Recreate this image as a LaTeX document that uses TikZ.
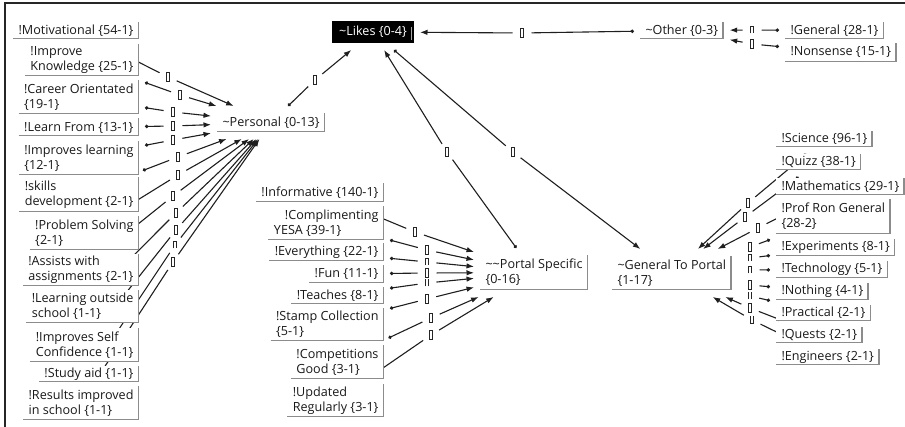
\documentclass[tikz,border=0pt]{standalone}
\usepackage{fontspec}
\setmainfont{Open Sans}
\usetikzlibrary{arrows.meta}
\pgfdeclarelayer{bg}
\pgfsetlayers{bg,main}
\tikzset{
  code/.style={rectangle, fill=white, inner xsep=5.5pt, inner ysep=0pt,
    outer xsep=6pt, outer ysep=7pt, align=left, text=black!90,
    font=\fontsize{12.6}{15}\selectfont},
  lbl/.style={circle, minimum size=19pt, inner sep=0pt, outer sep=0pt},
  gl/.style={line width=0.9pt, black!85},
  shad/.style={line width=1.4pt, black!45},
  link/.style={line width=1.1pt, black!88},
  dotarr/.style={link, {Circle[length=3.4pt]}-},
  plain/.style={link},
  tiparr/.style={link, -{Latex[length=7.5pt,width=5.5pt]}},
}
\newcommand\lbx[4]{%
  \node[lbl] (#1) at (#2,#3) {};
  \ifcase#4
    \draw[gl] ([xshift=-1.8pt,yshift=-4.3pt]#1.center) rectangle ([xshift=1.8pt,yshift=4.3pt]#1.center);
  \or
    \draw[gl] ([xshift=-1.8pt,yshift=-3.5pt]#1.center) -- ([xshift=-1.8pt,yshift=3.5pt]#1.center) -- ([xshift=1.8pt,yshift=3.5pt]#1.center) -- ([xshift=1.8pt,yshift=-3.5pt]#1.center);
  \or
    \draw[gl] ([xshift=-1.8pt,yshift=-3.5pt]#1.center) -- ([xshift=-1.8pt,yshift=3.5pt]#1.center) ([xshift=1.8pt,yshift=-3.5pt]#1.center) -- ([xshift=1.8pt,yshift=3.5pt]#1.center);
  \or
    \draw[gl] ([xshift=-1.8pt,yshift=3.5pt]#1.center) -- ([xshift=-1.8pt,yshift=-3.5pt]#1.center) -- ([xshift=1.8pt,yshift=-3.5pt]#1.center) -- ([xshift=1.8pt,yshift=3.5pt]#1.center);
  \fi}
\newcommand\lnk[3]{\draw[dotarr] (#1) -- (#2); \draw[tiparr] (#2) -- (#3);}
\newcommand\lnkhalf[2]{\draw[dotarr] (#1) -- (#2);}
\begin{document}
\begin{tikzpicture}[x=1pt,y=-1pt]
\useasboundingbox (0,0) rectangle (905,427);
% frame
\draw[line width=2pt, black!85] (5,427) -- (5,3.5) -- (905,3.5);

% ---------- left column ----------
\node[code,anchor=east,minimum height=17pt] (mot) at (145,30.5) {!Motivational \{54-1\}};
\node[code,anchor=east,minimum height=32pt] (ik) at (145,60) {!Improve\\Knowledge \{25-1\}};
\node[code,anchor=east,minimum height=34pt] (car) at (145,97.5) {!Career Orientated\\\{19-1\}};
\node[code,anchor=east,minimum height=18pt] (lf) at (145,127.5) {!Learn From \{13-1\}};
\node[code,anchor=east,minimum height=34pt] (il) at (145,158) {!Improves learning\\\{12-1\}};
\node[code,anchor=east,minimum height=35pt] (sk) at (145,195) {!skills\\development \{2-1\}};
\node[code,anchor=east,minimum height=34pt] (ps) at (145,233) {!Problem Solving\\\{2-1\}};
\node[code,anchor=east,minimum height=32pt] (aw) at (145,270) {!Assists with\\assignments \{2-1\}};
\node[code,anchor=east,minimum height=33pt] (lo) at (145,306.5) {!Learning outside\\school \{1-1\}};
\node[code,anchor=east,minimum height=34pt] (isc) at (145,345) {!Improves Self\\Confidence \{1-1\}};
\node[code,anchor=east,minimum height=16pt] (sa) at (145,374) {!Study aid \{1-1\}};
\node[code,anchor=east,minimum height=34pt] (ri) at (145,403) {!Results improved\\in school \{1-1\}};

% ---------- middle column ----------
\node[code,anchor=east,minimum height=19pt] (inf) at (390,192.5) {!Informative \{140-1\}};
\node[code,anchor=east,minimum height=34pt] (cy) at (390,223) {\hspace*{11pt}!Complimenting\\YESA \{39-1\}};
\node[code,anchor=east,minimum height=18pt] (ev) at (390,252) {!Everything \{22-1\}};
\node[code,anchor=east,minimum height=18pt] (fun) at (390,274) {!Fun \{11-1\}};
\node[code,anchor=east,minimum height=17pt] (tea) at (390,295.5) {!Teaches \{8-1\}};
\node[code,anchor=east,minimum height=33pt] (sc) at (390,324.5) {!Stamp Collection\\\{5-1\}};
\node[code,anchor=east,minimum height=34pt] (cg) at (390,362) {!Competitions\\Good \{3-1\}};
\node[code,anchor=east,minimum height=33pt] (ur) at (390,400.5) {!Updated\\Regularly \{3-1\}};

% ---------- right column ----------
\node[code,anchor=west,minimum height=16pt] (sci) at (770,139) {!Science \{96-1\}};
\node[code,anchor=west,minimum height=16pt] (qz) at (770,162) {!Quizz \{38-1\}};
\node[code,anchor=west,minimum height=17pt] (mat) at (770,186.5) {!Mathematics \{29-1\}};
\node[code,anchor=west,minimum height=35pt] (prg) at (770,216.5) {!Prof Ron General\\\{28-2\}};
\node[code,anchor=west,minimum height=17pt] (exp) at (770,247.5) {!Experiments \{8-1\}};
\node[code,anchor=west,minimum height=17pt] (tec) at (770,269.5) {!Technology \{5-1\}};
\node[code,anchor=west,minimum height=17pt] (not) at (770,291.5) {!Nothing \{4-1\}};
\node[code,anchor=west,minimum height=16pt] (pra) at (770,313) {!Practical \{2-1\}};
\node[code,anchor=west,minimum height=16pt] (que) at (770,335) {!Quests \{2-1\}};
\node[code,anchor=west,minimum height=16pt] (eng) at (770,357) {!Engineers \{2-1\}};

% ---------- top / hubs ----------
\node[code,anchor=west,minimum height=19pt] (per) at (211,122.5) {\textasciitilde Personal \{0-13\}};
\node[code,fill=black,text=white,minimum width=82pt,minimum height=22pt,align=center] (lik) at (373,32) {\textasciitilde Likes \{0-4\}};
\node[code,anchor=west,minimum height=17pt] (oth) at (634,30.5) {\textasciitilde Other \{0-3\}};
\node[code,anchor=west,minimum height=17pt] (gen) at (779,30.5) {!General \{28-1\}};
\node[code,anchor=west,minimum height=19pt] (non) at (779,52.5) {!Nonsense \{15-1\}};
\node[code,anchor=west,minimum height=35pt] (pos) at (474,272.5) {\textasciitilde\textasciitilde Portal Specific\\\{0-16\}};
\node[code,anchor=west,minimum height=34pt] (gtp) at (606,273) {\textasciitilde General To Portal\\\{1-17\}};

% shadow edges of the code boxes
\foreach \n in {mot,ik,car,lf,il,sk,ps,aw,lo,isc,sa,ri,inf,cy,ev,fun,tea,sc,cg,ur,sci,qz,mat,prg,exp,tec,not,pra,que,eng,per,oth,gen,non,pos,gtp}
  \draw[shad] ([xshift=6pt,yshift=7.7pt]\n.south west) -- ([xshift=-6.7pt,yshift=7.7pt]\n.south east) -- ([xshift=-6.7pt,yshift=-7pt]\n.north east);
\draw[line width=0.8pt, black!35] ([xshift=-9pt,yshift=-13pt]lik.north east) -- ([xshift=-9pt,yshift=10pt]lik.south east);

% ---------- relation labels ----------
\lbx{l1}{168}{77}{0}
\lbx{l2}{180}{95}{0}
\lbx{l3}{173}{112}{0}
\lbx{l4}{173}{126}{0}
\lbx{l5}{173}{140}{0}
\lbx{l6}{178}{157}{0}
\lbx{l7}{178}{175}{0}
\lbx{l8}{173}{196}{0}
\lbx{l9}{176}{213}{0}
\lbx{l10}{176}{230}{0}
\lbx{l11}{175}{245}{1}
\lbx{l12}{173}{262}{0}
\lbx{m1}{415}{232}{0}
\lbx{m2}{427}{250}{0}
\lbx{m3}{427}{262}{1}
\lbx{m4}{427}{273}{0}
\lbx{m5}{427}{283}{2}
\lbx{m6}{427}{299}{0}
\lbx{m7}{431}{318}{0}
\lbx{m8}{431}{335}{0}
\lbx{r1}{748}{203}{0}
\lbx{r2}{745}{217}{0}
\lbx{r3}{758}{228}{0}
\lbx{r4}{750}{247}{0}
\lbx{r5}{750}{258}{1}
\lbx{r6}{750}{270}{1}
\lbx{r7}{750}{285}{0}
\lbx{r8}{750}{296}{2}
\lbx{r9}{750}{308}{0}
\lbx{r10}{752}{320}{3}
\lbx{t1}{315}{80}{0}
\lbx{t2}{447}{152}{0}
\lbx{t3}{513}{152}{0}
\lbx{t4}{522}{33}{0}
\lbx{t5}{752}{30}{1}
\lbx{t6}{752}{44}{0}

% ---------- connectors (behind the boxes) ----------
\begin{pgfonlayer}{bg}
\lnk{mot}{l1}{per}
\lnk{ik}{l2}{per}
\lnk{car}{l3}{per}
\lnk{lf}{l4}{per}
\lnk{il}{l5}{per}
\lnk{sk}{l6}{per}
\lnk{ps}{l7}{per}
\lnk{aw}{l8}{per}
\lnk{lo}{l9}{per}
\lnk{isc}{l10}{per}
\lnk{sa}{l11}{per}
\lnk{ri}{l12}{per}
\lnk{inf}{m1}{pos}
\lnk{cy}{m2}{pos}
\lnk{ev}{m3}{pos}
\lnk{fun}{m4}{pos}
\lnk{tea}{m5}{pos}
\lnk{sc}{m6}{pos}
\lnk{cg}{m7}{pos}
\lnk{ur}{m8}{pos}
\lnk{sci}{r1}{gtp}
\lnk{qz}{r2}{gtp}
\lnk{mat}{r3}{gtp}
\lnkhalf{prg}{r4}
\lnkhalf{exp}{r5}
\lnkhalf{tec}{r6}
\lnkhalf{not}{r7}
\lnkhalf{pra}{r8}
\lnk{que}{r9}{gtp}
\lnk{eng}{r10}{gtp}
\lnk{per}{t1}{lik}
\lnk{pos}{t2}{lik}
\lnk{lik}{t3}{gtp}
\lnk{oth}{t4}{lik}
\lnk{gen}{t5}{oth}
\lnk{non}{t6}{oth}
\end{pgfonlayer}
\end{tikzpicture}
\end{document}
